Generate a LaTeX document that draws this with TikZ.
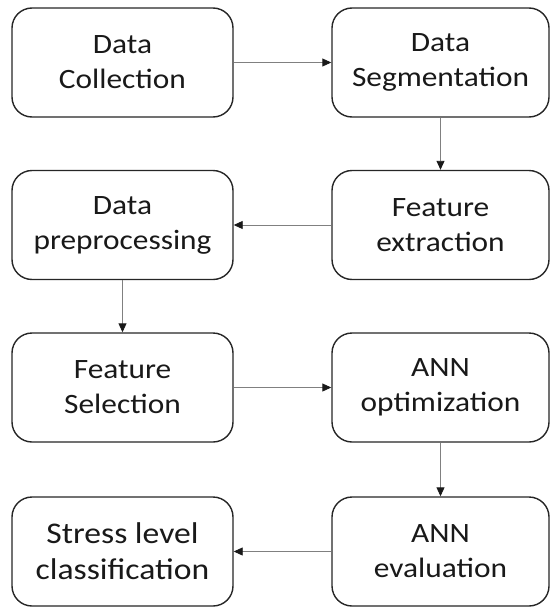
\documentclass[tikz,border=0pt]{standalone}
\usepackage{fontspec}
\setmainfont{Carlito}[FakeStretch=1.12]
\usetikzlibrary{arrows.meta}
\tikzset{
  stagebox/.style={draw=black!85, line width=1.4pt, rounded corners=20pt, fill=white,
    align=center, inner sep=0pt, font=\fontsize{28}{35}\selectfont, text=black!90},
  leftbox/.style={stagebox, minimum width=221pt, minimum height=109pt},
  rightbox/.style={stagebox, minimum width=217pt, minimum height=109pt},
  flow/.style={draw=black!50, line width=0.9pt, -{Triangle[length=9pt,width=8pt,black!90]}}
}
\begin{document}
\begin{tikzpicture}[x=1pt,y=-1pt]
\useasboundingbox (0,0) rectangle (550,608);
\node[leftbox]  (dc)  at (122.5,62.5)  {Data\\Collection};
\node[rightbox] (ds)  at (440.5,62.5)  {Data\\Segmentation};
\node[rightbox] (fe)  at (440.5,225)   {Feature\\extraction};
\node[leftbox]  (dp)  at (122.5,225)   {Data\\preprocessing};
\node[leftbox]  (fs)  at (122.5,387.5) {Feature\\Selection};
\node[rightbox] (ao)  at (440.5,387.5) {ANN\\optimization};
\node[rightbox] (ae)  at (440.5,551.5) {ANN\\evaluation};
\node[leftbox, font=\fontsize{30}{36}\selectfont] (sl) at (122.5,551.5) {Stress level\\classification};
\draw[flow] (dc) -- (ds);
\draw[flow] (ds) -- (fe);
\draw[flow] (fe) -- (dp);
\draw[flow] (dp) -- (fs);
\draw[flow] (fs) -- (ao);
\draw[flow] (ao) -- (ae);
\draw[flow] (ae) -- (sl);
\end{tikzpicture}
\end{document}
